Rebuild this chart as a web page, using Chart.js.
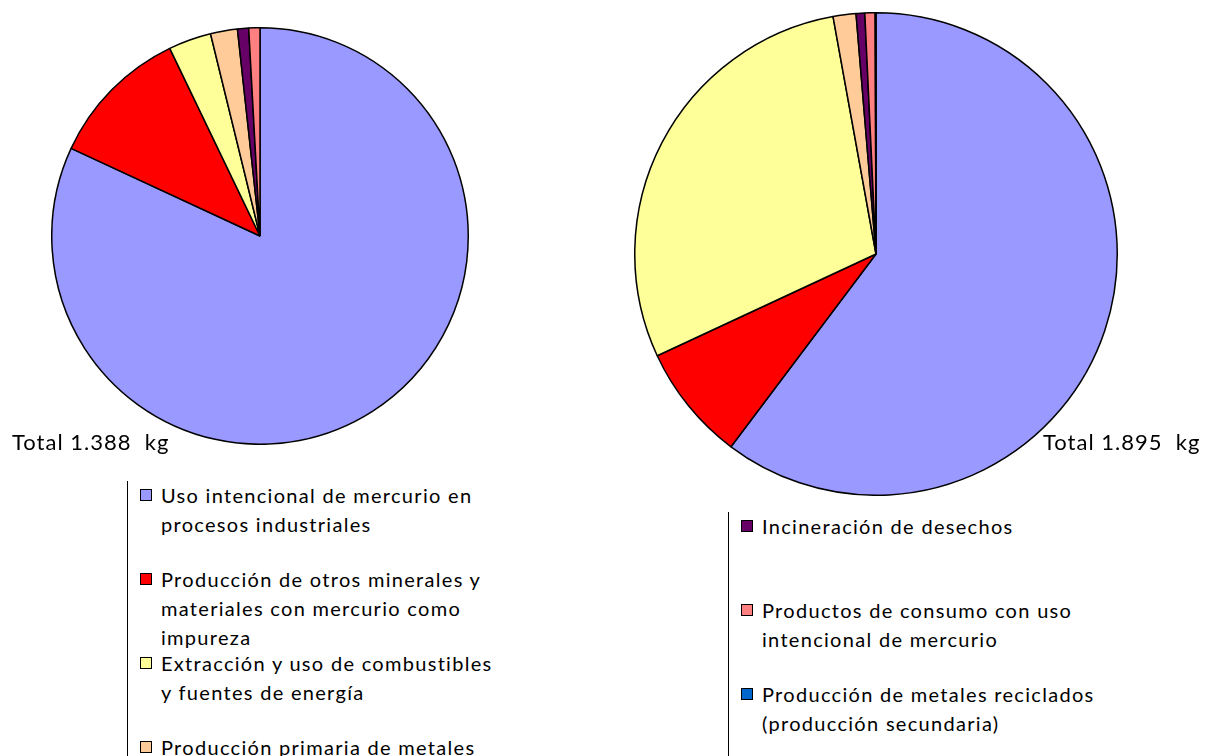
<!DOCTYPE html>
<html>
<head>
<meta charset="utf-8">
<script src="https://cdn.jsdelivr.net/npm/chart.js@4"></script>
<style>
  body { margin: 0; width: 1205px; height: 756px; overflow: hidden; background: #fff; font-family: Lato, "Open Sans", sans-serif; color: #000; }
  .pie { position: absolute; }
  .total { position: absolute; font-size: 22px; letter-spacing: 1px; }
  .legend { position: absolute; border-left: 1.5px solid #000; overflow: hidden; }
  .item { position: relative; height: 84px; width: 345px; padding-left: 33px; font-size: 20px; line-height: 29px; letter-spacing: 1.3px; }
  .box { position: absolute; left: 12px; top: 8px; width: 10px; height: 10px; border: 1.5px solid #000; }
</style>
</head>
<body>
<canvas id="pieLeft" class="pie"></canvas>
<canvas id="pieRight" class="pie"></canvas>
<div class="total" style="left:12px; top:428px;">Total 1.388&nbsp; kg</div>
<div class="total" style="left:1043px; top:428px;">Total 1.895&nbsp; kg</div>
<div id="legendLeft" class="legend" style="left:127px; top:481px; height:275px;"></div>
<div id="legendRight" class="legend" style="left:728px; top:512px; height:244px;"></div>

<script>
// categories and colors
const categories = [
  "Uso intencional de mercurio en procesos industriales",
  "Producción de otros minerales y materiales con mercurio como impureza",
  "Extracción y uso de combustibles y fuentes de energía",
  "Producción primaria de metales",
  "Incineración de desechos",
  "Productos de consumo con uso intencional de mercurio",
  "Producción de metales reciclados (producción secundaria)"
];
const colors = ["#9999FF", "#FF0000", "#FFFF99", "#FFCC99", "#660066", "#FF8080", "#0066CC"];

// kg per category
const valuesLeft = [1137, 152, 46, 29, 12, 12, 0];
const valuesRight = [1142, 148, 551, 29, 11, 13, 1];

// which legend entries show in each legend box
const legendLeftItems = [0, 1, 2, 3];
const legendRightItems = [4, 5, 6];

function makePie(id, values, left, top, size) {
  const canvas = document.getElementById(id);
  canvas.style.left = left + "px";
  canvas.style.top = top + "px";
  canvas.width = size;
  canvas.height = size;
  canvas.style.width = size + "px";
  canvas.style.height = size + "px";
  return new Chart(canvas, {
    type: "pie",
    data: {
      labels: categories,
      datasets: [{
        data: values,
        backgroundColor: colors,
        borderColor: "#000",
        borderWidth: 1.5
      }]
    },
    options: {
      responsive: false,
      animation: false,
      layout: { padding: 0 },
      plugins: {
        legend: { display: false },
        tooltip: { enabled: false }
      }
    }
  });
}

function makeLegend(id, items) {
  const el = document.getElementById(id);
  items.forEach(i => {
    const div = document.createElement("div");
    div.className = "item";
    const box = document.createElement("span");
    box.className = "box";
    box.style.background = colors[i];
    div.appendChild(box);
    div.appendChild(document.createTextNode(categories[i]));
    el.appendChild(div);
  });
}

makePie("pieLeft", valuesLeft, 51, 27, 418);
makePie("pieRight", valuesRight, 634, 12, 484);
makeLegend("legendLeft", legendLeftItems);
makeLegend("legendRight", legendRightItems);
</script>
</body>
</html>
